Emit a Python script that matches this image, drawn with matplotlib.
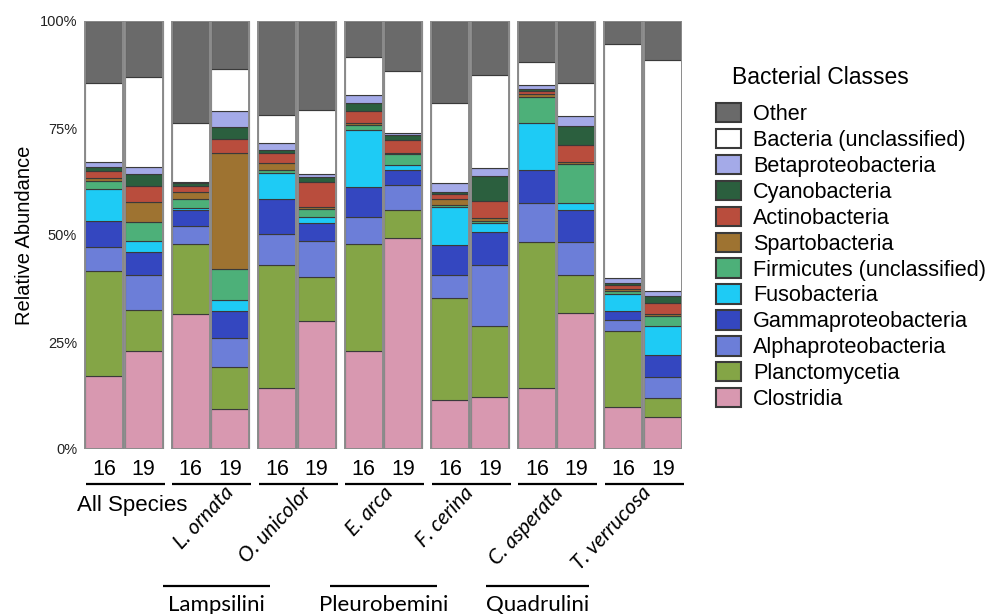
import matplotlib
matplotlib.use("Agg")
import matplotlib.pyplot as plt
import numpy as np
from matplotlib.patches import Patch
from matplotlib.transforms import blended_transform_factory

plt.rcParams['font.family'] = ['Liberation Sans', 'DejaVu Sans']

# ---------------- data ----------------
groups = ["All Species", "L. ornata", "O. unicolor", "E. arca", "F. cerina", "C. asperata", "T. verrucosa"]
years = ["16", "19"]
tribes = ["Lampsilini", "Pleurobemini", "Quadrulini"]

# classes from bottom of stack to top
classes = ["Clostridia", "Planctomycetia", "Alphaproteobacteria", "Gammaproteobacteria",
           "Fusobacteria", "Firmicutes (unclassified)", "Spartobacteria", "Actinobacteria",
           "Cyanobacteria", "Betaproteobacteria", "Bacteria (unclassified)", "Other"]

# 14 bars: (All 16, All 19, L.orn 16, L.orn 19, ...)
clostridia      = [17.1, 23.0, 31.5, 9.3, 14.2, 30.0, 22.9, 49.2, 11.4, 12.2, 14.2, 31.7, 9.7, 7.4]
planctomycetia  = [24.5, 9.5, 16.3, 9.8, 28.8, 10.3, 24.9, 6.6, 23.8, 16.5, 34.1, 9.0, 17.9, 4.4]
alphaproteo     = [5.7, 8.2, 4.3, 6.8, 7.2, 8.3, 6.3, 5.9, 5.5, 14.3, 9.1, 7.7, 2.5, 5.1]
gammaproteo     = [6.0, 5.4, 3.7, 6.3, 8.1, 4.1, 7.2, 3.6, 7.0, 7.8, 7.9, 7.4, 2.2, 5.1]
fusobacteria    = [7.4, 2.6, 0.4, 2.5, 6.1, 1.4, 13.2, 1.1, 8.9, 1.9, 10.8, 1.7, 3.9, 6.7]
firmicutes      = [1.9, 4.3, 2.1, 7.3, 0.8, 2.0, 1.2, 2.5, 0.4, 0.6, 6.1, 9.1, 0.8, 2.4]
spartobacteria  = [0.8, 4.8, 1.8, 27.1, 1.6, 0.5, 0.4, 0.3, 1.3, 0.6, 0.7, 0.5, 0.3, 0.4]
actinobacteria  = [1.6, 3.6, 1.4, 3.3, 2.3, 5.9, 2.9, 3.0, 1.3, 4.1, 0.7, 3.9, 1.0, 2.5]
cyanobacteria   = [1.0, 2.9, 0.6, 2.8, 0.8, 1.1, 1.8, 1.2, 0.5, 5.8, 0.4, 4.5, 0.6, 1.7]
betaproteo      = [1.1, 1.7, 0.4, 3.8, 1.5, 0.6, 1.9, 0.5, 2.0, 1.8, 1.0, 2.3, 1.0, 1.1]
unclassified    = [18.3, 20.8, 13.7, 9.7, 6.6, 15.0, 9.0, 14.5, 18.8, 21.9, 5.5, 7.8, 54.7, 54.2]
other           = [14.6, 13.2, 23.8, 11.3, 22.0, 20.8, 8.3, 11.6, 19.1, 12.5, 9.5, 14.4, 5.4, 9.0]

series = [clostridia, planctomycetia, alphaproteo, gammaproteo, fusobacteria, firmicutes,
          spartobacteria, actinobacteria, cyanobacteria, betaproteo, unclassified, other]

colors = ["#d898b0", "#84a546", "#6c7ed8", "#3447c0", "#1ecbf5", "#4db079",
          "#9e7331", "#b94d3d", "#2b5f3e", "#a4aae8", "#ffffff", "#6a6a6a"]

# ---------------- figure ----------------
W, H = 987, 614
fig = plt.figure(figsize=(W / 100, H / 100), dpi=100)
ax = fig.add_axes([84 / W, 165 / H, 598 / W, 428 / H])

n_groups = len(groups)
pair_centers = np.arange(n_groups)
offset = 0.228
xpos = np.ravel(np.column_stack([pair_centers - offset, pair_centers + offset]))
bw = 0.44

bottom = np.zeros(len(xpos))
for vals, col in zip(series, colors):
    v = np.array(vals)
    ax.bar(xpos, v, bottom=bottom, width=bw, color=col, edgecolor="#3a3a3a", linewidth=0.8)
    bottom += v
ax.bar(xpos, bottom, width=bw, fill=False, edgecolor="#8c8c8c", linewidth=1.4)

ax.set_xlim(-0.462, 6.45)
ax.set_ylim(0, 100)
for s in ax.spines.values():
    s.set_visible(False)
ax.set_yticks([0, 25, 50, 75, 100])
ax.set_yticklabels(["0%", "25%", "50%", "75%", "100%"])
ax.tick_params(axis="y", length=0, pad=5, labelsize=10.5, labelcolor="#222222")
ax.set_xticks(xpos)
ax.set_xticklabels(years * n_groups)
ax.tick_params(axis="x", length=0, pad=7, labelsize=15.5)
ax.set_ylabel("Relative Abundance", fontsize=14.5, labelpad=4)

tr = blended_transform_factory(ax.transData, ax.transAxes)
# lines under each pair
for c in pair_centers:
    ax.plot([c - 0.44, c + 0.47], [-0.0818, -0.0818], color="black", lw=1.6,
            transform=tr, clip_on=False, solid_capstyle="butt")

# group labels
label_shift = [0.1, 0.225, 0.127, 0.075, 0.0, 0.04, 0.058]
ax.text(label_shift[0], -0.131, groups[0], transform=tr, ha="center", va="center", fontsize=16)
for i, name in enumerate(groups[1:], start=1):
    ax.text(i + label_shift[i], -0.095, name, transform=tr, ha="right", va="center", rotation=47,
            rotation_mode="anchor", fontsize=15, style="italic", family=["Lato", "DejaVu Sans"])

# tribes
tribe_spans = [(0.45, 1.69), (2.38, 3.62), (4.18, 5.38)]
for name, (a, b) in zip(tribes, tribe_spans):
    ax.plot([a, b], [-0.321, -0.321], color="black", lw=1.6, transform=tr,
            clip_on=False, solid_capstyle="butt")
    ax.text((a + b) / 2, -0.365, name, transform=tr, ha="center", va="center",
            fontsize=16, family=["Lato", "DejaVu Sans"])

# legend
handles = [Patch(facecolor=c, edgecolor="#3a3a3a", linewidth=1.5, label=l)
           for l, c in zip(classes[::-1], colors[::-1])]
fig.legend(handles=handles, loc="upper left", bbox_to_anchor=(716 / W, 1 - 103 / H),
           frameon=False, fontsize=15.6, borderpad=0, borderaxespad=0,
           handlelength=1.15, handleheight=1.0, handletextpad=0.55, labelspacing=0.175)
fig.text(732 / W, 1 - 77 / H, "Bacterial Classes", fontsize=16.5, va="center", ha="left")

fig.savefig("out.png", dpi=100)
